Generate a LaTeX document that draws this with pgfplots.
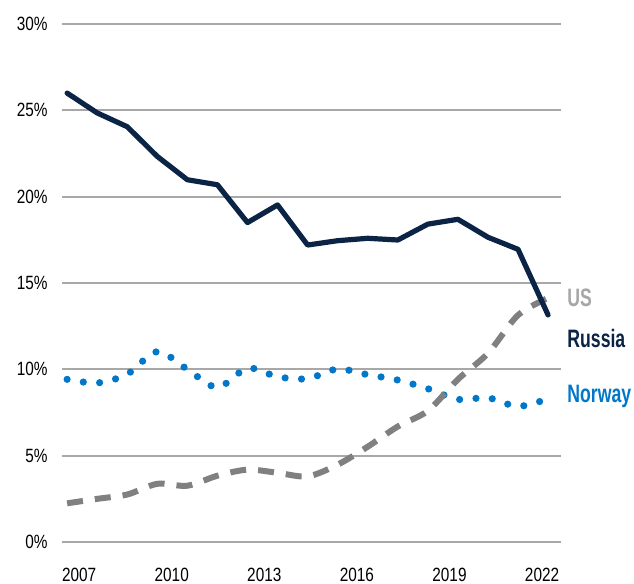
\documentclass[border=0pt]{standalone}
\usepackage{fontspec}
\setmainfont{Liberation Sans}[FakeStretch=0.8]
\newfontfamily\lblfont{Liberation Sans}[FakeStretch=0.7]
\usepackage{pgfplots}
\pgfplotsset{compat=1.18}

\definecolor{russia}{HTML}{0B2345}
\definecolor{norway}{HTML}{0077C8}
\definecolor{usdash}{HTML}{808082}
\definecolor{uslabel}{HTML}{A6A6A6}
\definecolor{gridgray}{HTML}{A8A8A8}

\begin{document}
\begin{tikzpicture}
\begin{axis}[
    scale only axis,
    width=249.5pt, height=259pt,
    xmin=-0.17, xmax=16.43,
    ymin=0, ymax=30,
    axis line style={draw=none},
    major tick length=0pt,
    ytick={0,5,10,15,20,25,30},
    yticklabel={\pgfmathprintnumber{\tick}\%},
    xtick={0.4,3.48,6.56,9.64,12.72,15.8},
    xticklabels={2007,2010,2013,2016,2019,2022},
    ymajorgrids,
    grid style={draw=gridgray, line width=1pt},
    tick label style={font=\fontsize{9.6}{11}\selectfont, text=black, inner sep=0pt},
    yticklabel style={anchor=east, xshift=-7pt},
    xticklabel style={anchor=north, yshift=-12.8pt},
    /pgf/number format/assume math mode=true,
    clip=false,
]
% Norway
\addplot[norway, line width=3.6pt, line cap=round, dash pattern=on 0pt off 8.2pt, smooth] coordinates {
(0,9.42) (1,9.21) (2,9.72) (3,11.03) (4,10.0) (5,8.95) (6,10.07) (7,9.57)
(8,9.46) (9,10.02) (10,9.69) (11,9.38) (12,8.88) (13,8.26) (14,8.35) (15,7.85) (16,8.3)
};
% US
\addplot[usdash, line width=3pt, dash pattern=on 8pt off 6pt, smooth] coordinates {
(0,2.24) (1,2.5) (2,2.75) (3,3.37) (4,3.26) (5,3.84) (6,4.19) (7,4.01)
(8,3.8) (9,4.48) (10,5.52) (11,6.69) (12,7.6) (13,9.42) (14,10.93) (15,13.14) (16,14.13)
};
% Russia
\addplot[russia, line width=2.6pt, line join=round, line cap=round] coordinates {
(0,26.0) (1,24.85) (2,24.05) (3,22.33) (4,20.98) (5,20.69) (6,18.5) (7,19.52)
(8,17.2) (9,17.45) (10,17.59) (11,17.49) (12,18.41) (13,18.69) (14,17.65) (15,16.95) (16,13.15)
};
\node[anchor=west, inner sep=0pt, text=uslabel, font=\lblfont\bfseries\fontsize{12.6}{14}\selectfont] at (axis cs:16.63,14.13) {US};
\node[anchor=west, inner sep=0pt, text=russia, font=\lblfont\bfseries\fontsize{12.6}{14}\selectfont] at (axis cs:16.63,11.81) {Russia};
\node[anchor=west, inner sep=0pt, text=norway, font=\lblfont\bfseries\fontsize{12.6}{14}\selectfont] at (axis cs:16.63,8.45) {Norway};
\coordinate (bl) at (axis description cs:-0.12425,-0.07915);
\coordinate (tr) at (axis description cs:1.14629,1.04633);
\end{axis}
\pgfresetboundingbox
\path[use as bounding box] (bl) rectangle (tr);
\end{tikzpicture}
\end{document}
